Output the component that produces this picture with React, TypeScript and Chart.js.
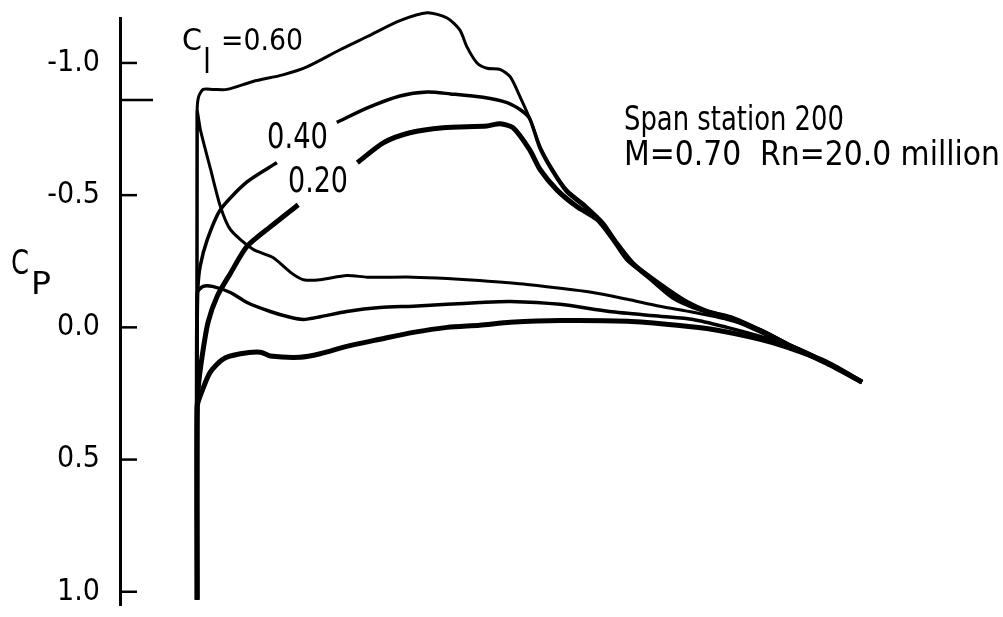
import { useEffect, useRef } from "react"
import { Chart, registerables } from "chart.js"

Chart.register(...registerables)

// Cp axis ticks and the critical pressure marker
const yTickValues = [-1.0, -0.5, 0.0, 0.5, 1.0]
const cpCritical = -0.86

// upper surface, Cl = 0.60
const upper60X = [0, 0, 0.002, 0.009, 0.024, 0.045, 0.084, 0.129, 0.165, 0.215, 0.256, 0.305, 0.346, 0.376, 0.395, 0.406, 0.421, 0.436, 0.456, 0.471, 0.486, 0.501, 0.516, 0.535, 0.556, 0.586, 0.611, 0.632, 0.656, 0.686, 0.716, 0.746, 0.776, 0.806, 0.847, 0.896, 0.947, 1.0]
const upper60Cp = [1.03, -0.815, -0.87, -0.9, -0.9, -0.9, -0.93, -0.955, -0.985, -1.05, -1.1, -1.16, -1.19, -1.17, -1.125, -1.06, -1.0, -0.98, -0.975, -0.947, -0.87, -0.785, -0.683, -0.596, -0.52, -0.457, -0.396, -0.32, -0.245, -0.18, -0.117, -0.08, -0.057, -0.038, 0.008, 0.072, 0.132, 0.207]

// upper surface, Cl = 0.40 (gap where the label sits)
const upper40X = [0, 0, 0.001, 0.0045, 0.015, 0.035, 0.075, 0.12, 0.165, 0.21, 0.256, 0.305, 0.346, 0.381, 0.43, 0.466, 0.486, 0.5, 0.516, 0.535, 0.556, 0.586, 0.611, 0.632, 0.656, 0.686, 0.716, 0.746, 0.776, 0.806, 0.847, 0.896, 0.947, 1.0]
const upper40Cp = [1.03, 0.06, -0.14, -0.23, -0.33, -0.445, -0.55, -0.623, null, -0.775, -0.83, -0.875, -0.89, -0.883, -0.87, -0.85, -0.823, -0.79, -0.675, -0.588, -0.512, -0.45, -0.388, -0.312, -0.238, -0.172, -0.11, -0.075, -0.052, -0.034, 0.01, 0.073, 0.133, 0.207]

// upper surface, Cl = 0.20
const upper20X = [0, 0, 0.0015, 0.0075, 0.0165, 0.03, 0.05, 0.075, 0.11, 0.152, 0.2, 0.241, 0.28, 0.32, 0.37, 0.436, 0.456, 0.475, 0.5, 0.516, 0.541, 0.571, 0.602, 0.626, 0.647, 0.671, 0.707, 0.737, 0.767, 0.806, 0.847, 0.896, 0.947, 1.0]
const upper20Cp = [1.03, 0.347, 0.234, 0.11, -0.02, -0.117, -0.204, -0.306, -0.38, -0.464, null, -0.623, -0.698, -0.736, -0.755, -0.762, -0.77, -0.755, -0.672, -0.596, -0.52, -0.457, -0.408, -0.332, -0.257, -0.208, -0.143, -0.094, -0.06, -0.03, 0.015, 0.075, 0.136, 0.207]

// lower surface, Cl = 0.20
const lower20X = [0, 0, 0.005, 0.02, 0.035, 0.05, 0.084, 0.114, 0.142, 0.16, 0.185, 0.225, 0.256, 0.325, 0.376, 0.425, 0.496, 0.595, 0.647, 0.696, 0.746, 0.797, 0.847, 0.896, 0.947, 1.0]
const lower20Cp = [1.03, -0.815, -0.746, -0.6, -0.457, -0.37, -0.295, -0.264, -0.205, -0.18, -0.18, -0.196, -0.19, -0.19, -0.185, -0.177, -0.162, -0.132, -0.106, -0.08, -0.057, -0.03, 0.008, 0.072, 0.132, 0.207]

// lower surface, Cl = 0.40
const lower40X = [0, 0, 0.009, 0.023, 0.05, 0.075, 0.11, 0.14, 0.16, 0.185, 0.225, 0.275, 0.325, 0.376, 0.425, 0.471, 0.546, 0.62, 0.696, 0.746, 0.797, 0.847, 0.896, 0.947, 1.0]
const lower40Cp = [1.03, -0.13, -0.155, -0.155, -0.132, -0.094, -0.06, -0.038, -0.03, -0.04, -0.06, -0.075, -0.08, -0.087, -0.094, -0.098, -0.087, -0.06, -0.042, -0.03, 0.0, 0.034, 0.072, 0.132, 0.207]

// lower surface, Cl = 0.60
const lower60X = [0, 0, 0.0045, 0.0195, 0.039, 0.065, 0.095, 0.11, 0.155, 0.185, 0.225, 0.275, 0.325, 0.376, 0.425, 0.471, 0.546, 0.647, 0.722, 0.776, 0.847, 0.887, 0.947, 1.0]
const lower60Cp = [1.03, 0.3, 0.26, 0.17, 0.12, 0.1, 0.094, 0.108, 0.113, 0.1, 0.072, 0.045, 0.019, 0.0, -0.008, -0.019, -0.026, -0.023, -0.008, 0.008, 0.045, 0.075, 0.132, 0.207]

const condensed = '"DejaVu Sans Condensed", sans-serif'

const toPoints = (xs: number[], ys: (number | null)[]) => xs.map((x, i) => ({ x, y: ys[i] }))

const overlay = {
  id: "overlay",
  afterDraw(chart: any) {
    const { ctx, chartArea } = chart
    const yScale = chart.scales.y
    const axisX = chartArea.left
    ctx.save()
    ctx.strokeStyle = "#000"
    ctx.lineWidth = 2.5
    yTickValues.forEach((v) => {
      const py = yScale.getPixelForValue(v)
      ctx.beginPath()
      ctx.moveTo(axisX, py)
      ctx.lineTo(axisX + 17, py)
      ctx.stroke()
    })
    const pc = yScale.getPixelForValue(cpCritical)
    ctx.beginPath()
    ctx.moveTo(axisX, pc)
    ctx.lineTo(axisX + 33, pc)
    ctx.stroke()

    ctx.fillStyle = "#000"
    ctx.textAlign = "left"
    ctx.textBaseline = "alphabetic"
    // draws text squeezed sideways to a given width, like the narrow lettering
    const put = (text: string, x: number, y: number, size: number, width: number) => {
      ctx.font = `${size}px ${condensed}`
      const w = ctx.measureText(text).width
      ctx.save()
      ctx.translate(x, y)
      ctx.scale(width / w, 1)
      ctx.fillText(text, 0, 0)
      ctx.restore()
    }
    put("C", 182, 50, 31, 20)
    put("l", 203, 73, 34, 8)
    put("=0.60", 221, 50, 30, 82)
    put("0.40", 267, 148, 35, 61)
    put("0.20", 288, 192, 35, 60)
    put("C", 11, 274, 34, 18)
    put("P", 31, 294, 32, 20)
    put("Span station 200", 624, 130, 34, 220)
    put("M=0.70  Rn=20.0 million", 624, 165, 34, 376)
    ctx.restore()
  },
}

export default function App() {
  const chartRef = useRef<HTMLCanvasElement>(null)
  const chartInstance = useRef<Chart | null>(null)

  useEffect(() => {
    if (!chartRef.current) return
    if (chartInstance.current) {
      chartInstance.current.destroy()
    }
    const ctx = chartRef.current.getContext("2d")
    if (!ctx) return

    const curves = [
      { data: toPoints(upper60X, upper60Cp), width: 3 },
      { data: toPoints(upper40X, upper40Cp), width: 3.5 },
      { data: toPoints(upper20X, upper20Cp), width: 5 },
      { data: toPoints(lower20X, lower20Cp), width: 3 },
      { data: toPoints(lower40X, lower40Cp), width: 3.5 },
      { data: toPoints(lower60X, lower60Cp), width: 5 },
    ]

    chartInstance.current = new Chart(ctx, {
      type: "line",
      data: {
        datasets: curves.map((c) => ({
          data: c.data,
          borderColor: "#000",
          borderWidth: c.width,
          pointRadius: 0,
          tension: 0.25,
          spanGaps: false,
          clip: false,
          fill: false,
        })),
      },
      options: {
        animation: false,
        responsive: true,
        maintainAspectRatio: false,
        layout: { padding: { top: 18, bottom: 12, left: 0, right: 0 } },
        plugins: { legend: { display: false }, tooltip: { enabled: false } },
        scales: {
          x: { type: "linear", display: false, min: -0.116, max: 1.212 },
          y: {
            type: "linear",
            reverse: true,
            min: -1.17,
            max: 1.05,
            afterFit: (scale: any) => {
              scale.width = 120
              scale.paddingTop = 0
              scale.paddingBottom = 0
            },
            afterBuildTicks: (scale: any) => {
              scale.ticks = yTickValues.map((v) => ({ value: v }))
            },
            grid: { display: false, drawTicks: false },
            border: { display: true, color: "#000", width: 3 },
            ticks: {
              padding: 20,
              color: "#000",
              font: { family: condensed, size: 30 },
              callback: (v: any) => Number(v).toFixed(1),
            },
          },
        },
      },
      plugins: [overlay],
    })

    return () => {
      if (chartInstance.current) {
        chartInstance.current.destroy()
        chartInstance.current = null
      }
    }
  }, [])

  return (
    <div style={{ position: "absolute", left: 0, top: 0, width: 1003, height: 617, background: "#fff" }}>
      <canvas ref={chartRef} />
    </div>
  )
}
